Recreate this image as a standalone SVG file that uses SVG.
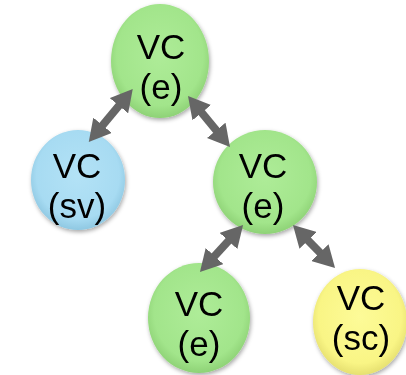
<svg xmlns="http://www.w3.org/2000/svg" width="406" height="375" viewBox="0 0 406 375">
<defs>
<style>
.lbl{font-family:"Liberation Sans",Arial,sans-serif;font-size:35px;fill:#000;text-anchor:middle}
.con{stroke:#666;stroke-width:8;fill:none;marker-start:url(#ah);marker-end:url(#ah)}
</style>
<radialGradient id="gG" cx="50%" cy="45%" r="55%">
<stop offset="0" stop-color="#aeec98"/><stop offset="0.8" stop-color="#a2e58b"/><stop offset="1" stop-color="#8ed276"/>
</radialGradient>
<radialGradient id="gB" cx="50%" cy="45%" r="55%">
<stop offset="0" stop-color="#b3e2f6"/><stop offset="0.8" stop-color="#a7dbf2"/><stop offset="1" stop-color="#8fc8e2"/>
</radialGradient>
<radialGradient id="gY" cx="50%" cy="45%" r="55%">
<stop offset="0" stop-color="#fdfb98"/><stop offset="0.8" stop-color="#f9f585"/><stop offset="1" stop-color="#e6e070"/>
</radialGradient>
<filter id="sh" x="-20%" y="-20%" width="140%" height="140%">
<feDropShadow dx="1" dy="2" stdDeviation="2" flood-color="#000" flood-opacity="0.35"/>
</filter>
<marker id="ah" viewBox="0 0 9 10" refX="2" refY="5" markerWidth="2.7" markerHeight="3" orient="auto-start-reverse" markerUnits="strokeWidth">
<path d="M0,0 L9,5 L0,10 Z" fill="#666"/>
</marker>
</defs>
<g id="n-top" filter="url(#sh)">
<ellipse cx="160" cy="61" rx="49" ry="57" fill="url(#gG)"/>
<text class="lbl" x="161" y="59">VC</text>
<text class="lbl" x="161" y="99">(e)</text>
</g>
<g id="n-sv" filter="url(#sh)">
<ellipse cx="78" cy="180" rx="47" ry="50" fill="url(#gB)"/>
<text class="lbl" x="77" y="178">VC</text>
<text class="lbl" x="77" y="218">(sv)</text>
</g>
<g id="n-mid" filter="url(#sh)">
<ellipse cx="265" cy="182" rx="52" ry="52" fill="url(#gG)"/>
<text class="lbl" x="263" y="178">VC</text>
<text class="lbl" x="263" y="218">(e)</text>
</g>
<g id="n-bl" filter="url(#sh)">
<ellipse cx="199" cy="318" rx="51" ry="55" fill="url(#gG)"/>
<text class="lbl" x="199" y="316">VC</text>
<text class="lbl" x="199" y="356">(e)</text>
</g>
<g id="n-sc" filter="url(#sh)">
<ellipse cx="360" cy="322" rx="47" ry="53" fill="url(#gY)"/>
<text class="lbl" x="361" y="310">VC</text>
<text class="lbl" x="361" y="350">(sc)</text>
</g>
<g id="connectors">
<path class="con" d="M99.5,129 L122,102"/>
<path class="con" d="M198.7,109 L219.3,134"/>
<path class="con" d="M231.7,237.4 L211.3,259.6"/>
<path class="con" d="M304.7,237 L323.3,256"/>
</g>
</svg>
